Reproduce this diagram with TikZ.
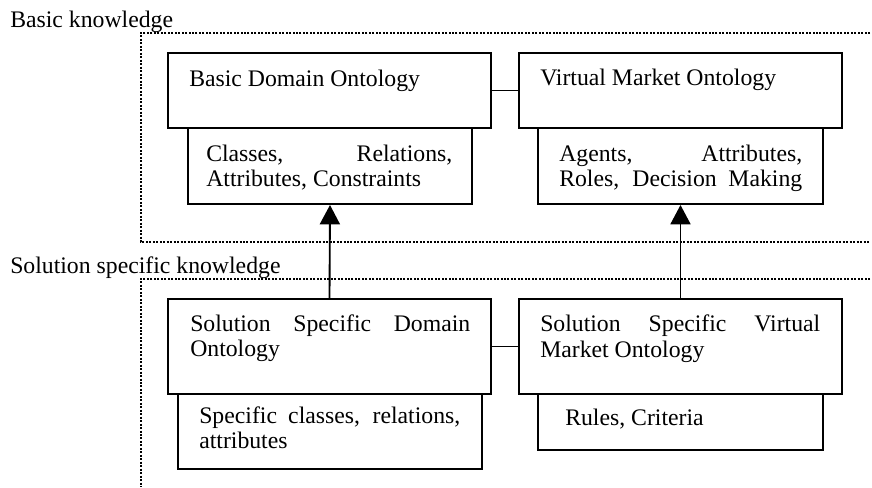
\documentclass[tikz,border=0pt]{standalone}
\usepackage{fontspec}
\setmainfont{Liberation Serif}
\usetikzlibrary{arrows.meta,fit}
\tikzset{
  box/.style={draw, line width=1.5pt, inner sep=0pt},
  frame/.style={line width=1.5pt, dash pattern=on 1.5pt off 1.1pt},
  txt/.style={anchor=base west, inner sep=0pt, font=\fontsize{17.8}{20}\selectfont},
  link/.style={line width=1.4pt},
  uparrow/.style={line width=1.4pt, -{Triangle[length=14.5pt,width=15pt]}}
}
\begin{document}
\begin{tikzpicture}[x=0.75pt,y=-0.75pt]
\useasboundingbox (0,0) rectangle (872,487);
% frames
\draw[frame] (870,33) -- (141,33) -- (141,242) -- (870,242);
\draw[frame] (870,279) -- (141,279) -- (141,487);
\node[txt] (lbl1) at (10,27) {Basic knowledge};
\node[txt] (lbl2) at (10,273) {Solution specific knowledge};
% boxes
\node[box, fit={(168,53) (491,128)}] (bdo) {};
\node[box, fit={(188,128) (472,204)}] (bdoa) {};
\node[box, fit={(519,53) (842,128)}] (vmo) {};
\node[box, fit={(538,128) (823,204)}] (vmoa) {};
\node[box, fit={(168,299) (491,394)}] (ssdo) {};
\node[box, fit={(178,394) (482,469)}] (ssdoa) {};
\node[box, fit={(519,299) (842,394)}] (ssvmo) {};
\node[box, fit={(538,394) (823,450)}] (ssvmoa) {};
% texts
\node[txt] (t1) at (189,86) {Basic Domain Ontology};
\node[txt] (t2) at (206,161.5) {\makebox[184.5pt][s]{Classes, Relations,}};
\node[txt] (t3) at (206,186.5) {Attributes, Constraints};
\node[txt] (t4) at (540,85) {Virtual Market Ontology};
\node[txt] (t5) at (559,161.5) {\makebox[182.25pt][s]{Agents, Attributes,}};
\node[txt] (t6) at (559,186.5) {\makebox[182.25pt][s]{Roles, Decision Making}};
\node[txt] (t7) at (190,331) {\makebox[210pt][s]{Solution Specific Domain}};
\node[txt] (t8) at (190,356) {Ontology};
\node[txt] (t9) at (540,331) {\makebox[210pt][s]{Solution Specific Virtual}};
\node[txt] (t10) at (540,357) {Market Ontology};
\node[txt] (t11) at (199,423) {\makebox[195.75pt][s]{Specific classes, relations,}};
\node[txt] (t12) at (199,448) {attributes};
\node[txt] (t13) at (565,425) {Rules, Criteria};
% connectors
\draw[link] (bdo.east) -- (vmo.west);
\draw[link] (ssdo.east) -- (ssvmo.west);
\draw[uparrow] (ssdo.north) -- (bdoa.south);
\draw[uparrow] (ssvmo.north) -- (vmoa.south);
\end{tikzpicture}
\end{document}
